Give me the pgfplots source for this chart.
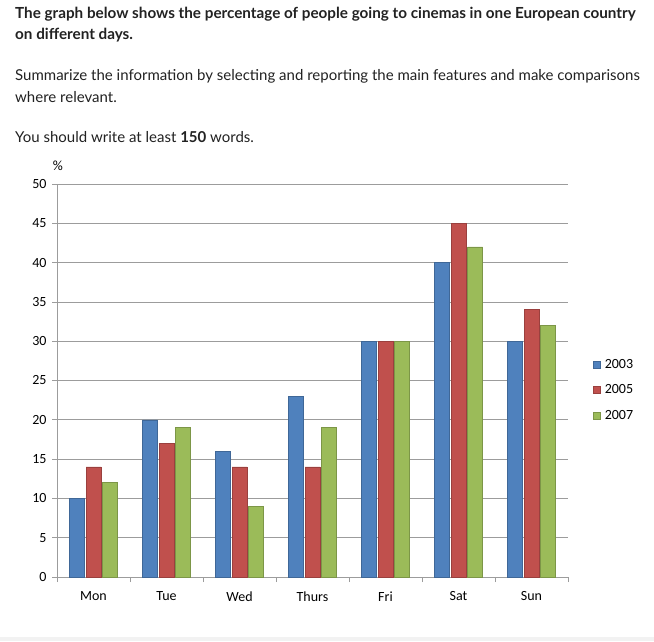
\documentclass[border=0pt]{standalone}
\usepackage{pgfplots}
\pgfplotsset{compat=1.18}
\usepackage{fontspec}
\setmainfont{Lato}
\newfontfamily\chartfont{Carlito}
\definecolor{cb}{HTML}{4F81BD}
\definecolor{cr}{HTML}{C0504D}
\definecolor{cg}{HTML}{9BBB59}
\definecolor{gridg}{HTML}{9C9C9C}
\definecolor{txt}{HTML}{222222}
\begin{document}
\begin{tikzpicture}
\fill[white] (0,0) rectangle (654pt,641pt);
\fill[black!5] (0,0) rectangle (654pt,4pt);
\node[anchor=base west, inner sep=0pt, text=txt, font=\bfseries\fontsize{15.25}{18}\selectfont] at (15pt,622pt) {The graph below shows the percentage of people going to cinemas in one European country};
\node[anchor=base west, inner sep=0pt, text=txt, font=\bfseries\fontsize{15.25}{18}\selectfont] at (15pt,601pt) {on different days.};
\node[anchor=base west, inner sep=0pt, text=txt, font=\fontsize{15}{18}\selectfont] at (15pt,560pt) {Summarize the information by selecting and reporting the main features and make comparisons};
\node[anchor=base west, inner sep=0pt, text=txt, font=\fontsize{15}{18}\selectfont] at (15pt,538pt) {where relevant.};
\node[anchor=base west, inner sep=0pt, text=txt, font=\fontsize{15}{18}\selectfont] at (15pt,498pt) {You should write at least \textbf{150} words.};
\node[font=\chartfont\fontsize{14}{16}\selectfont] at (58pt,475pt) {\%};
\begin{axis}[
  at={(57pt,64pt)}, anchor=south west,
  scale only axis, width=511pt, height=393pt,
  xmin=-0.5, xmax=6.5, ymin=0, ymax=50, enlargelimits=false,
  ytick={0,5,...,50},
  xtick={0,...,6}, xticklabels={Mon,Tue,Wed,Thurs,Fri,Sat,Sun},
  minor xtick={-0.5,0.5,...,6.5},
  major x tick style={draw=none},
  tick align=outside, major tick length=5pt, minor tick length=5pt,
  every tick/.style={gridg, line width=0.8pt},
  axis x line*=bottom, axis y line*=left,
  axis line style={gridg, line width=0.8pt},
  ymajorgrids, grid style={gridg, line width=0.8pt},
  /pgf/number format/assume math mode=true,
  tick label style={font=\chartfont\fontsize{14}{16}\selectfont, text=black},
  xticklabel style={yshift=-6pt},
  yticklabel style={xshift=-2pt},
  ybar=1.5pt, bar width=15pt,
  legend style={draw=none, fill=none, at={(1.043,0.476)}, anchor=west,
    font=\chartfont\fontsize{14}{16}\selectfont, row sep=11pt},
  legend cell align=left,
  legend image code/.code={\fill[#1] (0pt,-3.5pt) rectangle (7pt,3.5pt); \path (9pt,0pt);},
]
\addplot[fill=cb, draw=cb!80!black, line width=0.6pt] coordinates {(0,10) (1,20) (2,16) (3,23) (4,30) (5,40) (6,30)};
\addplot[fill=cr, draw=cr!80!black, line width=0.6pt] coordinates {(0,14) (1,17) (2,14) (3,14) (4,30) (5,45) (6,34)};
\addplot[fill=cg, draw=cg!80!black, line width=0.6pt] coordinates {(0,12) (1,19) (2,9) (3,19) (4,30) (5,42) (6,32)};
\legend{2003,2005,2007}
\end{axis}
\end{tikzpicture}
\end{document}
